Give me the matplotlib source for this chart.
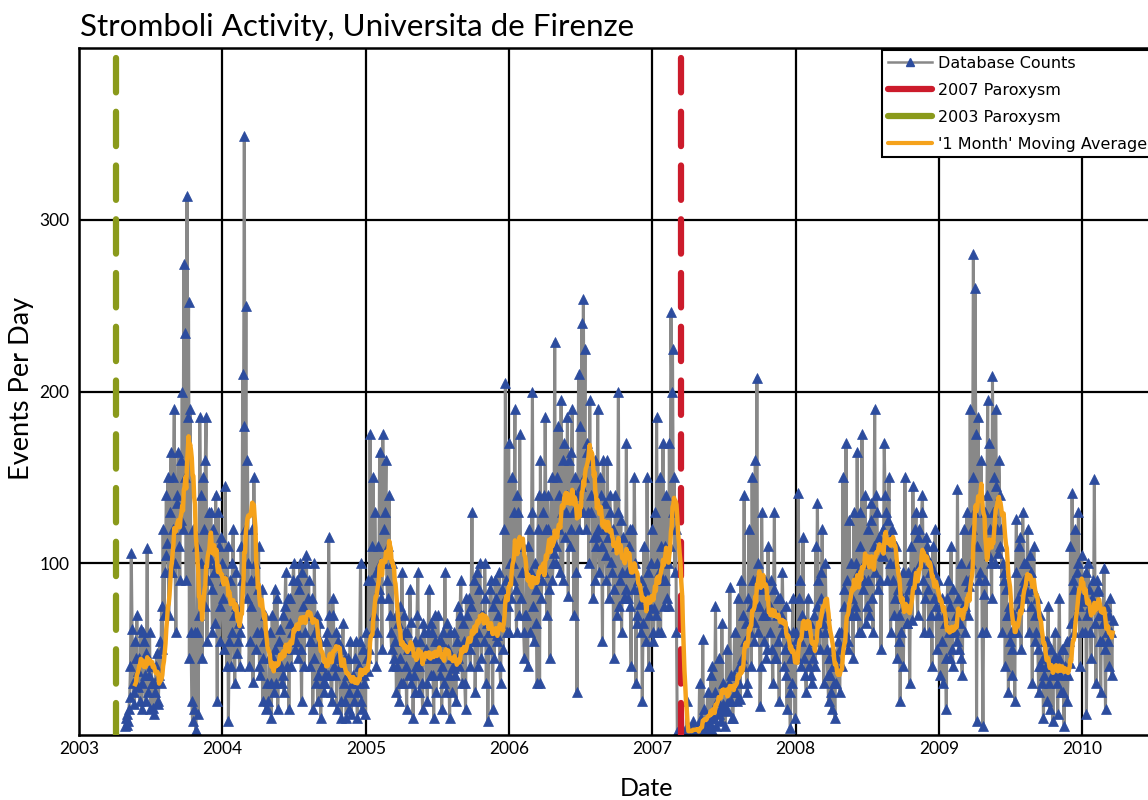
import matplotlib
matplotlib.use("Agg")
import matplotlib.pyplot as plt
import matplotlib.dates as mdates
from matplotlib.lines import Line2D
import pandas as pd

# events per day, one reading about every two days (eighteen readings per tenth of a year)
counts = [
    5, 10, 12, 6, 8, 15, 22, 40, 106, 62, 30, 25, 18, 55, 45, 70, 28, 37,
    45, 20, 62, 15, 30, 60, 55, 35, 20, 48, 109, 25, 35, 60, 15, 40, 30, 16,
    30, 12, 25, 40, 48, 18, 20, 35, 55, 30, 75, 50, 120, 70, 95, 105, 140, 112,
    150, 70, 95, 130, 165, 95, 120, 150, 190, 100, 60, 135, 140, 165, 110, 90, 160, 125,
    200, 120, 274, 150, 234, 90, 314, 185, 252, 45, 190, 60, 20, 8, 120, 15, 60, 3,
    60, 110, 12, 70, 185, 140, 100, 45, 150, 120, 75, 160, 185, 55, 90, 100, 130, 103,
    130, 85, 60, 120, 95, 65, 140, 100, 20, 130, 110, 55, 75, 115, 100, 80, 50, 90,
    145, 90, 40, 110, 8, 55, 90, 40, 60, 100, 120, 70, 30, 95, 75, 48, 55, 65,
    40, 60, 110, 90, 210, 180, 349, 120, 250, 80, 160, 100, 40, 55, 90, 75, 120, 31,
    150, 100, 90, 50, 60, 85, 110, 40, 35, 60, 85, 20, 45, 55, 70, 15, 30, 16,
    20, 45, 60, 30, 10, 70, 45, 25, 85, 50, 30, 80, 15, 40, 55, 62, 40, 30,
    70, 35, 25, 75, 95, 50, 40, 80, 15, 65, 80, 40, 60, 90, 100, 55, 50, 55,
    90, 60, 45, 85, 100, 50, 20, 95, 75, 40, 60, 100, 105, 70, 80, 90, 40, 55,
    55, 80, 15, 45, 100, 60, 30, 70, 20, 35, 65, 55, 10, 40, 40, 30, 25, 35,
    30, 55, 60, 35, 115, 70, 45, 25, 20, 80, 70, 40, 35, 60, 15, 45, 55, 45,
    40, 20, 10, 50, 65, 30, 20, 45, 10, 35, 45, 15, 25, 55, 12, 30, 35, 34,
    20, 45, 55, 25, 10, 30, 40, 55, 100, 20, 15, 50, 30, 35, 12, 60, 45, 37,
    90, 50, 175, 90, 60, 110, 150, 70, 130, 95, 40, 60, 110, 85, 165, 100, 80, 50,
    175, 100, 120, 130, 160, 90, 80, 110, 140, 70, 60, 50, 100, 40, 45, 55, 70, 25,
    40, 65, 20, 45, 75, 30, 95, 55, 30, 70, 60, 40, 15, 60, 50, 35, 85, 66,
    30, 50, 10, 35, 55, 25, 40, 70, 95, 40, 25, 55, 45, 30, 15, 65, 60, 47,
    50, 30, 20, 60, 85, 45, 35, 65, 60, 35, 10, 55, 70, 25, 45, 70, 55, 49,
    35, 55, 15, 40, 60, 30, 95, 50, 25, 65, 50, 35, 10, 60, 45, 25, 40, 39,
    60, 35, 20, 55, 75, 45, 40, 70, 90, 50, 30, 65, 55, 30, 15, 80, 70, 51,
    80, 50, 40, 75, 130, 60, 55, 90, 25, 55, 95, 40, 60, 85, 100, 70, 45, 69,
    70, 55, 100, 80, 30, 65, 8, 50, 60, 85, 90, 60, 15, 75, 45, 90, 80, 58,
    55, 70, 95, 40, 30, 65, 85, 50, 120, 80, 205, 90, 60, 75, 170, 60, 100, 80,
    150, 100, 90, 130, 190, 85, 60, 140, 130, 70, 175, 110, 80, 95, 110, 60, 45, 70,
    70, 95, 40, 110, 120, 60, 95, 130, 200, 75, 55, 100, 85, 65, 30, 120, 140, 30,
    160, 80, 90, 130, 140, 95, 185, 120, 70, 140, 120, 85, 45, 110, 150, 90, 100, 106,
    229, 100, 110, 150, 180, 120, 140, 95, 195, 130, 90, 160, 170, 115, 130, 140, 185, 81,
    160, 110, 120, 165, 190, 130, 70, 150, 140, 95, 25, 140, 210, 120, 180, 145, 240, 130,
    254, 150, 225, 120, 170, 165, 130, 100, 195, 130, 140, 160, 80, 115, 160, 90, 110, 116,
    190, 120, 95, 150, 140, 110, 55, 160, 120, 135, 105, 90, 160, 115, 80, 140, 130, 101,
    95, 120, 45, 85, 140, 110, 70, 130, 200, 75, 90, 125, 60, 95, 115, 80, 80, 85,
    170, 95, 80, 110, 120, 75, 40, 120, 95, 85, 150, 100, 30, 70, 65, 90, 85, 76,
    60, 90, 20, 65, 110, 80, 85, 55, 150, 95, 40, 70, 75, 100, 120, 60, 55, 74,
    130, 70, 185, 100, 60, 95, 150, 60, 110, 90, 170, 75, 90, 110, 140, 80, 100, 75,
    170, 110, 246, 200, 225, 130, 150, 95, 120, 60, 2, 0, 0, 1, 0, 0, 1, 0,
    0, 1, 3, 0, 20, 5, 0, 2, 2, 0, 0, 4, 8, 0, 0, 3, 1, 0,
    5, 0, 30, 2, 10, 5, 56, 3, 15, 1, 0, 8, 25, 4, 8, 6, 35, 3,
    40, 10, 10, 25, 75, 5, 20, 20, 45, 12, 15, 8, 65, 18, 30, 15, 5, 14,
    50, 15, 20, 30, 86, 20, 35, 10, 10, 35, 60, 25, 25, 20, 80, 30, 40, 21,
    90, 45, 40, 70, 140, 55, 65, 30, 25, 80, 120, 60, 75, 40, 150, 90, 55, 66,
    160, 90, 208, 60, 100, 75, 17, 40, 130, 85, 70, 55, 90, 70, 45, 50, 110, 75,
    60, 75, 90, 50, 30, 85, 130, 45, 45, 70, 80, 55, 20, 80, 70, 60, 95, 66,
    40, 50, 75, 35, 15, 60, 55, 25, 4, 45, 30, 80, 60, 50, 10, 60, 45, 56,
    141, 80, 90, 55, 40, 70, 115, 45, 60, 35, 25, 60, 80, 40, 50, 65, 35, 30,
    45, 55, 70, 40, 110, 75, 135, 90, 60, 50, 95, 80, 120, 65, 30, 60, 100, 70,
    50, 35, 20, 45, 35, 25, 15, 50, 40, 30, 10, 40, 30, 45, 55, 60, 25, 50,
    60, 40, 150, 75, 85, 60, 170, 90, 50, 55, 125, 70, 100, 80, 70, 45, 130, 75,
    100, 70, 165, 95, 60, 110, 130, 60, 175, 85, 90, 100, 140, 65, 75, 90, 120, 70,
    100, 125, 135, 80, 60, 110, 190, 95, 140, 130, 85, 115, 110, 90, 50, 105, 120, 104,
    170, 140, 130, 110, 90, 125, 150, 100, 60, 115, 120, 90, 70, 80, 100, 110, 45, 85,
    55, 70, 20, 60, 80, 95, 40, 75, 150, 80, 65, 65, 95, 85, 30, 90, 110, 67,
    145, 95, 90, 120, 130, 85, 70, 115, 120, 100, 100, 130, 140, 90, 60, 80, 115, 105,
    110, 85, 60, 100, 95, 70, 40, 110, 80, 95, 120, 75, 50, 90, 70, 80, 35, 75,
    80, 55, 30, 70, 65, 45, 15, 80, 90, 60, 45, 75, 110, 50, 40, 85, 60, 61,
    70, 55, 143, 80, 50, 65, 100, 45, 35, 75, 120, 60, 75, 90, 130, 70, 90, 87,
    190, 100, 120, 150, 280, 130, 260, 175, 8, 110, 185, 90, 95, 140, 160, 60, 5, 82,
    130, 90, 60, 140, 195, 105, 170, 120, 100, 80, 209, 130, 150, 100, 190, 145, 120, 106,
    160, 140, 110, 120, 60, 100, 95, 90, 40, 85, 70, 70, 25, 75, 55, 60, 35, 50,
    60, 70, 20, 95, 126, 60, 80, 110, 115, 75, 50, 85, 130, 100, 90, 80, 100, 84,
    120, 90, 60, 105, 95, 75, 30, 85, 110, 70, 55, 60, 80, 50, 25, 40, 70, 40,
    30, 45, 10, 35, 55, 40, 20, 55, 75, 30, 15, 50, 40, 35, 8, 45, 60, 36,
    45, 30, 12, 45, 80, 35, 25, 50, 50, 25, 5, 40, 35, 55, 20, 35, 55, 42,
    110, 65, 141, 90, 60, 85, 120, 70, 95, 100, 130, 75, 40, 80, 105, 60, 80, 78,
    60, 95, 12, 70, 100, 85, 75, 60, 45, 80, 90, 75, 149, 65, 30, 90, 85, 84,
    70, 55, 25, 70, 55, 65, 97, 50, 15, 75, 60, 55, 40, 70, 80, 60, 35, 67,
]
first_day = "2003-04-28"
last_day = "2010-03-19"
paroxysm_2003 = "2003-04-05"
paroxysm_2007 = "2007-03-15"
year_ticks = [2003, 2004, 2005, 2006, 2007, 2008, 2009, 2010]
event_ticks = [100, 200, 300]

gray = "#888888"
blue = "#2c4c9e"
orange = "#f5a21b"
red = "#cc1b2b"
green = "#8a9a1b"

days = pd.date_range(first_day, last_day, periods=len(counts))
series = pd.Series(counts, index=days, dtype=float)
monthly = series.rolling("30D", min_periods=14).mean()

fig = plt.figure(figsize=(11.48, 8), dpi=100)
ax = fig.add_axes([79 / 1148, 65 / 800, 1089 / 1148, 687 / 800])

ax.plot(series.index, series.values, color=gray, lw=2.2, marker="^", ms=6.5,
        mfc=blue, mec=blue, mew=0.5, zorder=2)
for when, col in [(paroxysm_2003, green), (paroxysm_2007, red)]:
    ax.axvline(pd.Timestamp(when), ymin=1, ymax=0, color=col, lw=4.5,
               linestyle=(7.0, (5.5, 3.1)), dash_capstyle="round", zorder=3)
ax.plot(monthly.index, monthly.values, color=orange, lw=3.2, zorder=4)

ax.set_xlim(pd.Timestamp("2003-01-01"), pd.Timestamp("2010-08-07"))
ax.set_ylim(0, 400)
ax.set_xticks([pd.Timestamp(f"{y}-01-01") for y in year_ticks])
ax.xaxis.set_major_formatter(mdates.DateFormatter("%Y"))
ax.set_yticks(event_ticks)
ax.set_axisbelow(True)
ax.grid(True, color="black", lw=1.6)
ax.tick_params(length=0, labelsize=12.5, pad=4)
for lab in ax.get_xticklabels() + ax.get_yticklabels():
    lab.set_family("Lato")
ax.tick_params(axis="y", pad=7)
for sp in ax.spines.values():
    sp.set_linewidth(1.8)

handles = [
    Line2D([], [], color=gray, lw=1.8, marker="^", ms=6, mfc=blue, mec=blue),
    Line2D([], [], color=red, lw=4.5, solid_capstyle="round"),
    Line2D([], [], color=green, lw=4.5, solid_capstyle="round"),
    Line2D([], [], color=orange, lw=3, solid_capstyle="round"),
]
labels = ["Database Counts", "2007 Paroxysm", "2003 Paroxysm", "'1 Month' Moving Average"]
leg = ax.legend(handles, labels, loc="upper left", bbox_to_anchor=(882 / 1148, 1 - 50 / 800),
                bbox_transform=fig.transFigure, borderaxespad=0, fancybox=False,
                framealpha=1, edgecolor="black", numpoints=1, handlelength=2.8,
                handletextpad=0.35, labelspacing=0.75, borderpad=0.35,
                prop={"family": "DejaVu Sans", "size": 11.5})
leg.get_frame().set_linewidth(1.5)

fig.text(80 / 1148, 1 - 36 / 800, "Stromboli Activity, Universita de Firenze",
         fontsize=22.6, family="Lato", va="baseline", ha="left")
fig.text(22 / 1148, 1 - 388 / 800, "Events Per Day", fontsize=19.5, family="Lato",
         rotation=90, ha="center", va="center")
fig.text(647 / 1148, 1 - 789 / 800, "Date", fontsize=18, family="Lato",
         ha="center", va="center")

fig.savefig("out.png", dpi=100)
